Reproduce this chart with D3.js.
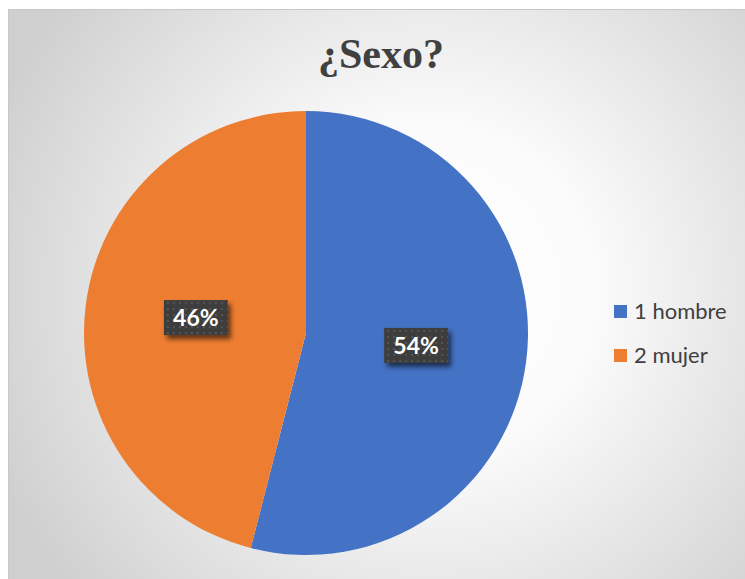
<!DOCTYPE html>
<html><head><meta charset="utf-8">
<script src="https://cdn.jsdelivr.net/npm/d3@7"></script>
<style>html,body{margin:0;padding:0;background:#fff;}svg{display:block;}</style>
</head><body>
<script>
const categories = ["1 hombre", "2 mujer"];
const values = [54, 46];
const labels = ["54%", "46%"];
const colors = ["#4472C4", "#ED7D31"];
const title = "¿Sexo?";

const W = 745, H = 579;
const svg = d3.select("body").append("svg").attr("width", W).attr("height", H);
const defs = svg.append("defs");

const grad = defs.append("radialGradient").attr("id", "bg")
  .attr("gradientUnits", "userSpaceOnUse")
  .attr("cx", 430).attr("cy", 290).attr("r", 470);
grad.append("stop").attr("offset", "0%").attr("stop-color", "#ffffff");
grad.append("stop").attr("offset", "35%").attr("stop-color", "#fbfbfb");
grad.append("stop").attr("offset", "100%").attr("stop-color", "#cfcfcf");

const pat = defs.append("pattern").attr("id", "dots")
  .attr("patternUnits", "userSpaceOnUse").attr("width", 6).attr("height", 6);
pat.append("rect").attr("width", 6).attr("height", 6).attr("fill", "#3d3d3d");
pat.append("rect").attr("x", 1).attr("y", 1).attr("width", 2).attr("height", 2).attr("fill", "#555555");

const shadow = defs.append("filter").attr("id", "shadow")
  .attr("x", "-30%").attr("y", "-30%").attr("width", "160%").attr("height", "180%");
shadow.append("feGaussianBlur").attr("in", "SourceAlpha").attr("stdDeviation", 2.5);
shadow.append("feOffset").attr("dx", 3).attr("dy", 4).attr("result", "ob");
shadow.append("feComponentTransfer").append("feFuncA").attr("type", "linear").attr("slope", 0.6);
const merge = shadow.append("feMerge");
merge.append("feMergeNode");
merge.append("feMergeNode").attr("in", "SourceGraphic");

svg.append("rect").attr("x", 8.5).attr("y", 9.5).attr("width", W + 10).attr("height", H + 10)
  .attr("fill", "url(#bg)").attr("stroke", "#c8c8c8").attr("stroke-width", 1);

svg.append("text").attr("x", 381).attr("y", 68).attr("text-anchor", "middle")
  .attr("font-family", "Liberation Serif, Times New Roman, serif")
  .attr("font-weight", "bold").attr("font-size", 42).attr("fill", "#404040")
  .text(title);

const cx = 306, cy = 333, r = 222;
const pie = d3.pie().sort(null).value(d => d)(values);
const arc = d3.arc().innerRadius(0).outerRadius(r);
const labelArc = d3.arc().innerRadius(r * 0.5).outerRadius(r * 0.5);

const g = svg.append("g").attr("transform", `translate(${cx},${cy})`);
g.selectAll("path.slice").data(pie).join("path").attr("class", "slice")
  .attr("d", arc).attr("fill", (d, i) => colors[i]);

const lg = g.selectAll("g.lbl").data(pie).join("g").attr("class", "lbl")
  .attr("transform", d => { const c = labelArc.centroid(d); return `translate(${c[0]},${c[1]})`; });
lg.append("rect").attr("x", -32).attr("y", -19).attr("width", 64).attr("height", 35)
  .attr("fill", "url(#dots)").attr("filter", "url(#shadow)");
lg.append("text").attr("text-anchor", "middle").attr("y", 7)
  .attr("font-family", "Lato, Open Sans, sans-serif").attr("font-weight", "bold")
  .attr("font-size", 23).attr("fill", "#ffffff")
  .text((d, i) => labels[i]);

const leg = svg.append("g");
const items = leg.selectAll("g").data(categories).join("g")
  .attr("transform", (d, i) => `translate(614,${305 + i * 44})`);
items.append("rect").attr("width", 13).attr("height", 13).attr("fill", (d, i) => colors[i]);
items.append("text").attr("x", 20).attr("y", 14)
  .attr("font-family", "Lato, Open Sans, sans-serif").attr("font-size", 22).attr("fill", "#404040")
  .text(d => d);
</script>
</body></html>
